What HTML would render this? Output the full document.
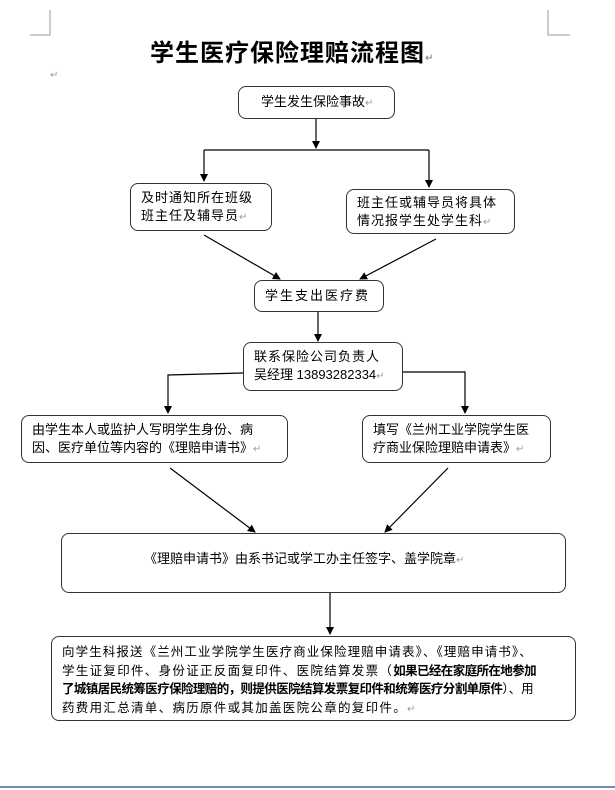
<!DOCTYPE html>
<html><head><meta charset="utf-8"><style>
body{margin:0;width:615px;height:790px;background:#fff;position:relative;overflow:hidden;font-family:"Liberation Sans","Noto Sans CJK SC",sans-serif;color:#000}
.b{position:absolute;border:1.5px solid #333;border-radius:8px;box-sizing:border-box;font-size:13px;line-height:18px;padding:0 10px;background:#fff;white-space:nowrap}
.r{color:#999;font-size:10px;letter-spacing:0}
</style></head><body>
<svg width="615" height="790" style="position:absolute;left:0;top:0">
<defs><marker id="a" markerWidth="8" markerHeight="8" refX="7" refY="4" orient="auto" markerUnits="userSpaceOnUse"><path d="M0,0 L8,4 L0,8z" fill="#000"/></marker></defs>
<g stroke="#999" fill="none"><path d="M50,10 V35 H30"/><path d="M548,10 V35 H570"/></g>
<g stroke="#000" stroke-width="1.2" fill="none">
<path d="M316,119 V148" marker-end="url(#a)"/>
<path d="M204,150 H429"/>
<path d="M204,150 V181" marker-end="url(#a)"/>
<path d="M429,150 V187" marker-end="url(#a)"/>
<path d="M204,235 L280,279" marker-end="url(#a)"/>
<path d="M436,239 L360,279" marker-end="url(#a)"/>
<path d="M318,312 V341" marker-end="url(#a)"/>
<path d="M243,373 L168,375 V413" marker-end="url(#a)"/>
<path d="M403,372 H465 V413" marker-end="url(#a)"/>
<path d="M170,468 L255,532" marker-end="url(#a)"/>
<path d="M448,468 L385,532" marker-end="url(#a)"/>
<path d="M330,593 V634" marker-end="url(#a)"/>
</g>
<line x1="0" y1="787" x2="615" y2="787" stroke="#6c8ebf" stroke-width="2"/>
</svg>
<div style="position:absolute;left:150px;top:33px;font-size:24px;font-weight:bold;letter-spacing:1px">学生医疗保险理赔流程图<span class="r">↵</span></div>
<div class="r" style="position:absolute;left:50px;top:70px">↵</div>
<div class="b" style="left:238px;top:86px;width:157px;height:33px;padding-top:6px;padding-left:22px">学生发生保险事故<span class="r">↵</span></div>
<div class="b" style="left:130px;top:183px;width:142px;height:48px;padding-top:5px;letter-spacing:1px">及时通知所在班级<br>班主任及辅导员<span class="r">↵</span></div>
<div class="b" style="left:346px;top:189px;width:169px;height:45px;padding-top:4px;letter-spacing:1px">班主任或辅导员将具体<br>情况报学生处学生科<span class="r">↵</span></div>
<div class="b" style="left:254px;top:280px;width:130px;height:32px;padding-top:6px;letter-spacing:2px">学生支出医疗费</div>
<div class="b" style="left:243px;top:342px;width:160px;height:49px;padding-top:5px"><span style="letter-spacing:1px">联系保险公司负责人</span><br>吴经理 <span style="font-family:'Liberation Sans',sans-serif">13893282334</span><span class="r">↵</span></div>
<div class="b" style="left:21px;top:415px;width:267px;height:48px;padding-top:5px">由学生本人或监护人写明学生身份、病<br>因、医疗单位等内容的《理赔申请书》<span class="r">↵</span></div>
<div class="b" style="left:362px;top:415px;width:189px;height:48px;padding-top:5px">填写《兰州工业学院学生医<br>疗商业保险理赔申请表》<span class="r">↵</span></div>
<div class="b" style="left:61px;top:533px;width:505px;height:60px;padding-top:16px;padding-left:82px">《理赔申请书》由系书记或学工办主任签字、盖学院章<span class="r">↵</span></div>
<div class="b" style="left:51px;top:636px;width:525px;height:85px;padding-top:6px;font-size:12.5px;line-height:18.6px">
<span style="letter-spacing:1.1px">向学生科报送《兰州工业学院学生医疗商业保险理赔申请表》、《理赔申请书》、</span><br>
<span style="letter-spacing:1.3px">学生证复印件、身份证正反面复印件、医院结算发票（</span><b style="letter-spacing:-0.6px">如果已经在家庭所在地参加</b><br>
<b style="letter-spacing:-0.6px">了城镇居民统筹医疗保险理赔的，则提供医院结算发票复印件和统筹医疗分割单原件</b>）、用<br>
<span style="letter-spacing:1.3px">药费用汇总清单、病历原件或其加盖医院公章的复印件。</span><span class="r">↵</span></div>
</body></html>
